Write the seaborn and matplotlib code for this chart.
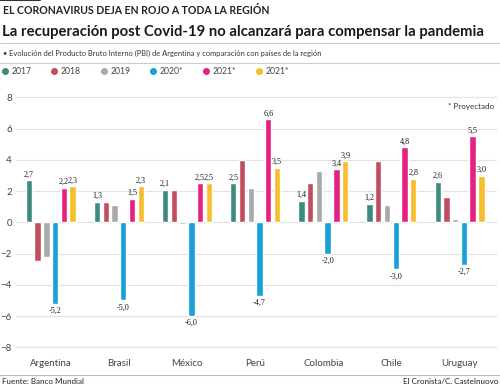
import numpy as np
import pandas as pd
import matplotlib.pyplot as plt
import seaborn as sns
from matplotlib.lines import Line2D

sns.set_theme(style="whitegrid")
plt.rcParams["font.family"] = ["Lato", "DejaVu Sans"]

paises = ["Argentina", "Brasil", "México", "Perú", "Colombia", "Chile", "Uruguay"]
series = ["2017", "2018", "2019", "2020*", "2021*", "2021* "]
etiquetas_leyenda = ["2017", "2018", "2019", "2020*", "2021*", "2021*"]

pbi_2017 = [2.7, 1.3, 2.1, 2.5, 1.4, 1.2, 2.6]
pbi_2018 = [-2.5, 1.3, 2.1, 4.0, 2.5, 3.9, 1.6]
pbi_2019 = [-2.2, 1.1, -0.1, 2.2, 3.3, 1.1, 0.2]
pbi_2020 = [-5.2, -5.0, -6.0, -4.7, -2.0, -3.0, -2.7]
pbi_2021a = [2.2, 1.5, 2.5, 6.6, 3.4, 4.8, 5.5]
pbi_2021b = [2.3, 2.3, 2.5, 3.5, 3.9, 2.8, 3.0]

colores = ["#3f8a80", "#c14d5e", "#a9a9a9", "#16a2d6", "#e3237f", "#f6bd2c"]
con_etiqueta = ["2017", "2020*", "2021*", "2021* "]

valores = [pbi_2017, pbi_2018, pbi_2019, pbi_2020, pbi_2021a, pbi_2021b]
df = pd.DataFrame(
    [(p, s, v) for s, vals in zip(series, valores) for p, v in zip(paises, vals)],
    columns=["pais", "serie", "valor"],
)

fig = plt.figure(figsize=(5, 3.87), dpi=100)
ax = fig.add_axes([0.032, 0.0904, 0.962, 0.682])

sns.barplot(data=df, x="pais", y="valor", hue="serie", hue_order=series,
            palette=colores, width=0.77, gap=0.28, saturation=1, legend=False, ax=ax)

# etiquetas de valor
for cont, serie in zip(ax.containers, series):
    if serie not in con_etiqueta:
        continue
    for bar in cont:
        v = bar.get_height()
        x = bar.get_x() + bar.get_width() / 2
        txt = f"{v:.1f}".replace(".", ",")
        if v >= 0:
            ax.text(x, v + 0.12, txt, ha="center", va="bottom", fontsize=5.9,
                    family="Liberation Serif", color="#1a1a1a")
        else:
            ax.text(x, v - 0.2, txt, ha="center", va="top", fontsize=5.9,
                    family="Liberation Serif", color="#1a1a1a")

ax.set_ylim(-8.3, 8.6)
ax.set_xlim(-0.51, 6.55)
ax.set_yticks(np.arange(-8, 9, 2))
ax.set_xlabel("")
ax.set_ylabel("")
ax.grid(axis="y", color="#e3e3e3", linewidth=0.9)
ax.grid(axis="x", visible=False)
for s in ax.spines.values():
    s.set_visible(False)
ax.tick_params(axis="both", length=0, labelsize=7, colors="#444444")
ax.tick_params(axis="y", pad=3)
ax.tick_params(axis="x", pad=5)
ax.text(0.995, 0.93, "* Proyectado", transform=ax.transAxes, ha="right", va="center",
        fontsize=5.8, color="#333333")

# textos de cabecera
fig.add_artist(Line2D([0, 0.08], [0.999, 0.999], color="#333333", linewidth=1.5))
fig.text(0.006, 0.972, "EL CORONAVIRUS DEJA EN ROJO A TODA LA REGIÓN", fontsize=7.6,
         fontweight="bold", color="#222222", va="center")
fig.text(0.004, 0.918, "La recuperación post Covid-19 no alcanzará para compensar la pandemia",
         fontsize=10.7, fontweight="bold", color="#1a1a1a", va="center")
fig.add_artist(Line2D([0, 1], [0.89, 0.89], color="#cccccc", linewidth=0.8))
fig.text(0.006, 0.862, "• Evolución del Producto Bruto Interno (PBI) de Argentina y comparación con países de la región",
         fontsize=5.4, color="#333333", va="center")
fig.add_artist(Line2D([0, 1], [0.838, 0.838], color="#cccccc", linewidth=0.8))

handles = [Line2D([], [], marker="o", linestyle="", markersize=4, color=c) for c in colores]
fig.legend(handles, etiquetas_leyenda, loc="center left", bbox_to_anchor=(-0.018, 0.815),
           ncol=6, frameon=False, fontsize=6.2, handletextpad=0.0, columnspacing=1.9,
           handlelength=1.5, labelcolor="#444444")

# pie
fig.add_artist(Line2D([0, 1], [0.032, 0.032], color="#bbbbbb", linewidth=0.8))
fig.text(0.004, 0.013, "Fuente: Banco Mundial", fontsize=5.8, color="#222222", va="center")
fig.text(0.997, 0.013, "El Cronista/C. Castelnuovo", fontsize=5.8, color="#222222",
         va="center", ha="right")

fig.savefig("out.png", dpi=100)
